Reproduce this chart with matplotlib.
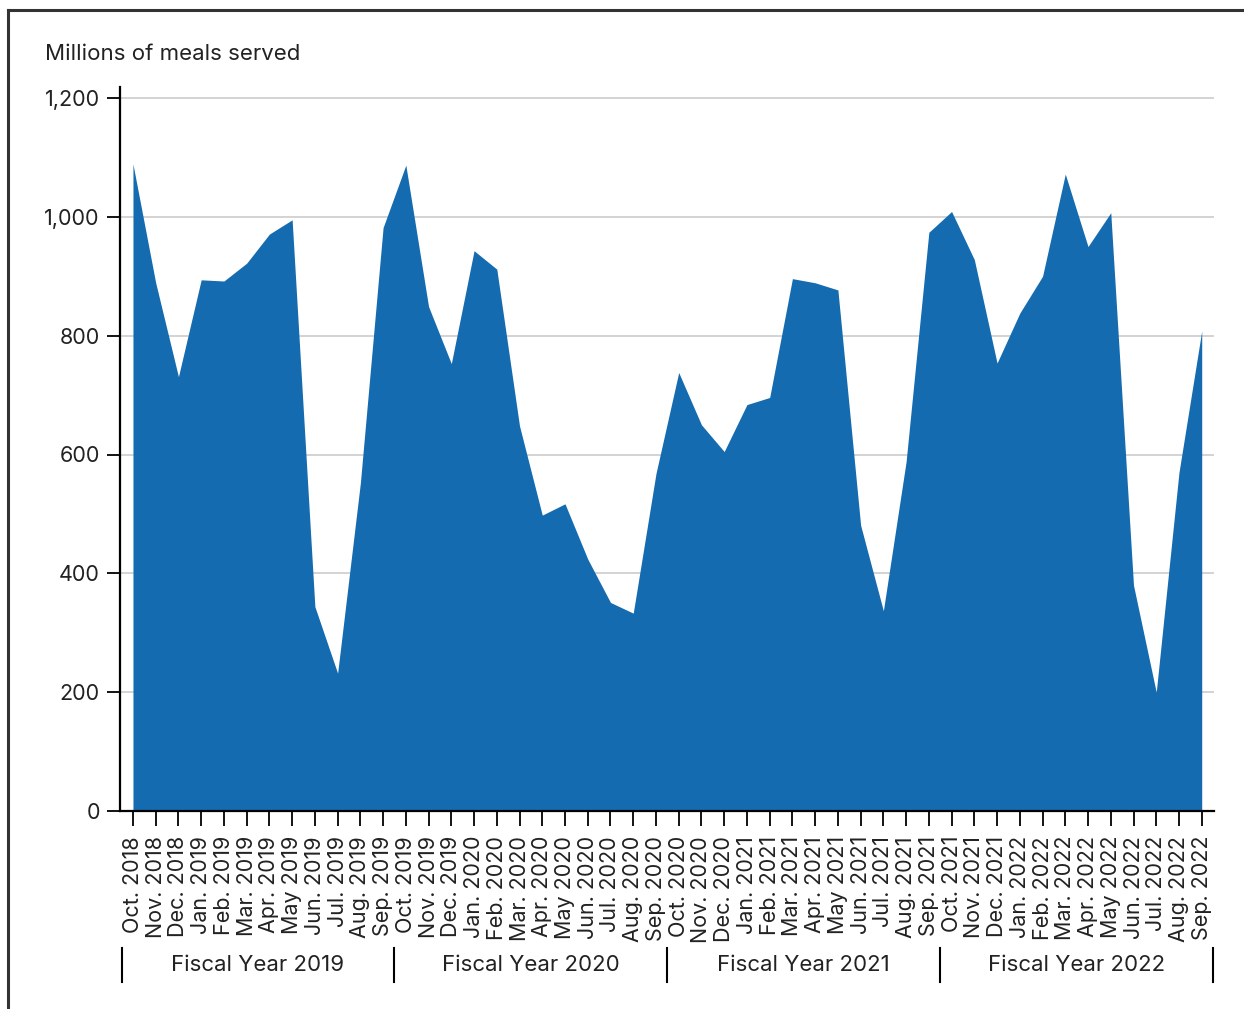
import matplotlib
matplotlib.use("Agg")
import matplotlib.pyplot as plt
import matplotlib.transforms as mtransforms
from matplotlib.lines import Line2D

plt.rcParams['font.family'] = ['Inter', 'DejaVu Sans']

months = ["Oct.", "Nov.", "Dec.", "Jan.", "Feb.", "Mar.", "Apr.", "May", "Jun.", "Jul.", "Aug.", "Sep."]
labels = []
for fy in [2019, 2020, 2021, 2022]:
    for i, m in enumerate(months):
        yr = fy - 1 if i < 3 else fy
        labels.append(f"{m} {yr}")

meals = [1089, 889, 731, 894, 892, 922, 971, 995, 344, 232, 552, 982,
         1087, 849, 753, 943, 912, 648, 498, 517, 424, 351, 333, 568,
         738, 650, 605, 684, 696, 896, 889, 877, 481, 337, 588, 974,
         1009, 928, 754, 838, 900, 1072, 950, 1007, 380, 200, 570, 808]

fiscal_years = ["Fiscal Year 2019", "Fiscal Year 2020", "Fiscal Year 2021", "Fiscal Year 2022"]
yticks = [0, 200, 400, 600, 800, 1000, 1200]

W, H = 1244, 1009
fig = plt.figure(figsize=(W / 100, H / 100), dpi=100)

x0, x1 = 120, 1214
y_zero = 811
px_per_unit = (811 - 98) / 1200
ytop = 1218
ax_h = ytop * px_per_unit
ax = fig.add_axes([x0 / W, 1 - y_zero / H, (x1 - x0) / W, ax_h / H])

xs = list(range(len(meals)))
ax.fill_between(xs, 0, meals, color='#156BB0', linewidth=0, zorder=3)

ax.set_xlim(-0.57, 47.54)
ax.set_ylim(0, ytop)

ax.set_yticks(yticks)
ax.set_yticklabels([f"{v:,}" for v in yticks])
ax.yaxis.grid(True, color='#cccccc', linewidth=1.2, zorder=0)
ax.set_axisbelow(True)

ax.set_xticks(xs)
ax.set_xticklabels(labels, rotation=90, fontsize=15.5, color='#222222')

for s in ['top', 'right']:
    ax.spines[s].set_visible(False)
for s in ['left', 'bottom']:
    ax.spines[s].set_linewidth(1.6)
    ax.spines[s].set_color('black')
    ax.spines[s].set_zorder(4)

ax.tick_params(axis='y', length=9.5, width=1.3, pad=5, labelsize=15.5, labelcolor='#222222')
ax.tick_params(axis='x', length=11, width=1.3, pad=7)

# Fiscal year groups
trans = mtransforms.blended_transform_factory(ax.transData, ax.transAxes)
def ypx_to_axes(ypx):
    return (y_zero - ypx) / ax_h

for b in [-0.5, 11.5, 23.5, 35.5, 47.5]:
    ax.add_line(Line2D([b, b], [ypx_to_axes(948), ypx_to_axes(982)], transform=trans,
                       color='black', linewidth=1.5, clip_on=False))
for i, name in enumerate(fiscal_years):
    ax.text(12 * i + 5.5, ypx_to_axes(965), name, transform=trans, ha='center', va='center',
            fontsize=16, color='#222222', clip_on=False)

fig.text(45 / W, 1 - 54 / H, "Millions of meals served", ha='left', va='center',
         fontsize=16, color='#222222')

# Frame (top and left edges visible)
fig.add_artist(Line2D([8 / W, 1.0], [1 - 10 / H, 1 - 10 / H], transform=fig.transFigure,
                      color='#333333', linewidth=2.2))
fig.add_artist(Line2D([8 / W, 8 / W], [0, 1 - 10 / H], transform=fig.transFigure,
                      color='#333333', linewidth=2.2))

fig.savefig("out.png", dpi=100)
